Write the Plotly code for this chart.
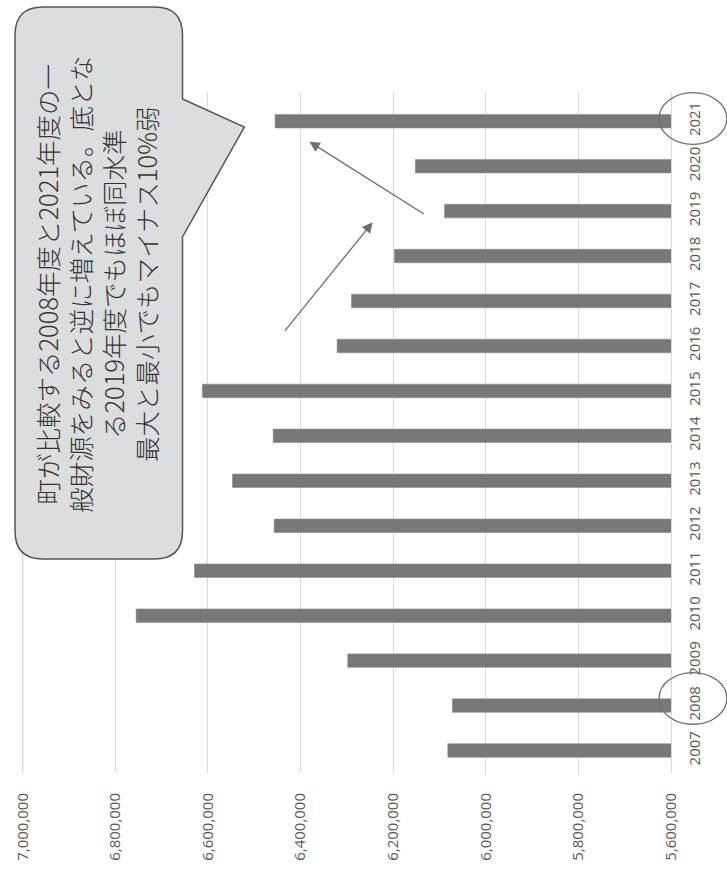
import plotly.graph_objects as go

# 一般財源の推移（年度別）
years = ["2007", "2008", "2009", "2010", "2011", "2012", "2013", "2014",
         "2015", "2016", "2017", "2018", "2019", "2020", "2021"]
general_revenue = [6082000, 6072000, 6298000, 6755000, 6629000, 6457000, 6547000, 6459000,
                   6612000, 6321000, 6290000, 6197000, 6089000, 6152000, 6455000]
value_ticks = [5600000, 5800000, 6000000, 6200000, 6400000, 6600000, 6800000, 7000000]
highlight_years = ["2008", "2021"]

callout_lines = [
    "町が比較する2008年度と2021年度の一",
    "般財源をみると逆に増えている。底とな",
    "る2019年度でもほぼ同水準",
    "最大と最小でもマイナス10%弱",
]

W, H = 727, 873
M_L, M_R, M_T, M_B = 20, 56, 92, 100
PW, PH = W - M_L - M_R, H - M_T - M_B


def px(x, y):
    """Page pixel position -> paper coordinates."""
    return (x - M_L) / PW, (H - M_B - y) / PH


def path_from(points):
    out = []
    for cmd, pts in points:
        coords = " ".join(f"{a:.5f},{b:.5f}" for a, b in (px(*p) for p in pts))
        out.append(f"{cmd}{coords}")
    return " ".join(out) + " Z"


fig = go.Figure(go.Bar(
    x=general_revenue,
    y=years,
    orientation="h",
    width=0.3,
    marker=dict(color="#77787b", line=dict(color="#8a8b8e", width=0.6)),
    hoverinfo="x+y",
))

# gridline at the far end of the value axis (edge gridlines are not drawn by default)
shapes = [dict(type="line", xref="x", yref="paper", x0=max(value_ticks), x1=max(value_ticks),
               y0=0, y1=1, line=dict(color="#d9d9d9", width=1.3), layer="below")]

# speech-bubble callout with a pointer toward the 2021 bar
left, right, top, bottom, r = 13, 181, 7, 559, 28
tail_top, tail_tip, tail_bot = (right, 99), (243, 127), (right, 237)
bubble = path_from([
    ("M", [(left + r, top)]),
    ("L", [(right - r, top)]),
    ("Q", [(right, top), (right, top + r)]),
    ("L", [tail_top]),
    ("L", [tail_tip]),
    ("L", [tail_bot]),
    ("L", [(right, bottom - r)]),
    ("Q", [(right, bottom), (right - r, bottom)]),
    ("L", [(left + r, bottom)]),
    ("Q", [(left, bottom), (left, bottom - r)]),
    ("L", [(left, top + r)]),
    ("Q", [(left, top), (left + r, top)]),
])

shapes.append(dict(type="path", path=bubble, xref="paper", yref="paper",
                   fillcolor="#dcdddf", line=dict(color="#555555", width=1.5), layer="above"))

# ellipses around the compared years' labels
ex0, _ = px(659, 0)
ex1, _ = px(727, 0)
for yr, shift in zip(highlight_years, [0.16, 0.06]):
    idx = years.index(yr)
    shapes.append(dict(type="circle", xref="paper", yref="y",
                       x0=ex0, x1=ex1, y0=idx + shift - 0.575, y1=idx + shift + 0.575,
                       line=dict(color="#6d6d6d", width=1.3), layer="above"))

cx, cy = px(94, 284)
annotations = [dict(
    text="<br>".join(callout_lines), xref="paper", yref="paper", x=cx, y=cy,
    xanchor="center", yanchor="middle", textangle=-90, showarrow=False, align="center",
    font=dict(family="Noto Sans CJK JP", size=25.5, weight=300, color="#333333"),
)]

# arrows: (head, tail)
for head, tail in [((308.3, 141.7), (424.3, 215)), ((371.7, 222.3), (282.7, 332.3))]:
    hx, hy = px(*head)
    annotations.append(dict(
        x=hx, y=hy, xref="paper", yref="paper", text="", showarrow=True,
        ax=tail[0] - head[0], ay=tail[1] - head[1],
        arrowhead=2, arrowsize=1.6, arrowwidth=1.3, arrowcolor="#6d6e71", standoff=0,
    ))

fig.update_layout(
    width=W, height=H,
    margin=dict(l=M_L, r=M_R, t=M_T, b=M_B),
    paper_bgcolor="white", plot_bgcolor="white",
    showlegend=False,
    shapes=shapes,
    annotations=annotations,
    bargap=0.7,
    xaxis=dict(
        range=[7001500, 5600000],
        tickvals=value_ticks,
        tickformat=",d",
        tickangle=-90,
        showgrid=True, gridcolor="#d9d9d9", gridwidth=1.3,
        zeroline=False, showline=False, ticks="",
        ticklabelstandoff=16,
        tickfont=dict(family="Open Sans", size=15, color="#595959"),
    ),
    yaxis=dict(
        type="category",
        side="right",
        tickangle=-90,
        showgrid=False, zeroline=False,
        showline=True, linecolor="#d9d9d9", linewidth=1.3, ticks="",
        ticklabelstandoff=10,
        tickfont=dict(family="Open Sans", size=15, color="#595959"),
    ),
)

fig.write_html("out.html")
